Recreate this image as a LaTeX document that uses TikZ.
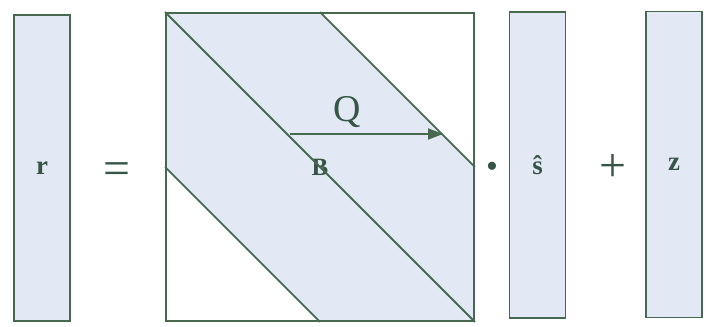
\documentclass[tikz,border=0pt]{standalone}
\usepackage{fontspec}
\setmainfont{Liberation Serif}
\usetikzlibrary{arrows.meta,backgrounds}
\definecolor{edgegreen}{RGB}{70,105,80}
\definecolor{vecfill}{RGB}{226,233,245}
\definecolor{textgreen}{RGB}{55,85,70}

\begin{document}
\begin{tikzpicture}[x=1bp,y=-1bp]
\tikzset{
  VB/.style={draw=edgegreen,fill=vecfill,line width=1.8bp,rectangle,minimum width=56bp,minimum height=306bp,inner sep=0pt,font=\fontsize{27}{28}\selectfont\bfseries\color{textgreen}},
  MX/.style={draw=edgegreen,line width=1.8bp,rectangle,minimum size=308bp,inner sep=0pt,font=\fontsize{25}{26}\selectfont\bfseries\color{textgreen}},
  OP/.style={font=\fontsize{48}{50}\selectfont\color{textgreen},inner sep=0pt},
  BL/.style={draw=edgegreen,line width=1.8bp},
  QA/.style={-{Triangle[length=15bp,width=11bp]},line width=1.8bp,draw=edgegreen,fill=edgegreen},
  lb/.style={font=\fontsize{38}{40}\selectfont\color{textgreen},inner sep=0pt},
}
\useasboundingbox (0,0) rectangle (708,326);

\node[VB](r) at (42,168){r};
\node[OP](eq) at (117,174){=};

\node[MX](mat) at (320,167){B};
\begin{pgfonlayer}{background}
  \fill[vecfill](mat.north west)--(mat.north)--(mat.east)--(mat.south east)--(mat.south)--(mat.west)--cycle;
\end{pgfonlayer}
\draw[BL](mat.north west)--(mat.south east);
\draw[BL](mat.north)--(mat.east);
\draw[BL](mat.west)--(mat.south);

\coordinate (qa) at (290,134);
\coordinate (qb) at (443,134);
\draw[QA](qa)--(qb);
\node[lb](q) at (347,112){Q};

\node[font=\fontsize{34}{34}\selectfont\color{textgreen},inner sep=0pt](dot) at (492,170){•};

\node[VB](s) at (537.5,165){ŝ};
\node[OP](plus) at (613,168){+};
\node[VB](z) at (674,164.5){z};

\end{tikzpicture}
\end{document}
